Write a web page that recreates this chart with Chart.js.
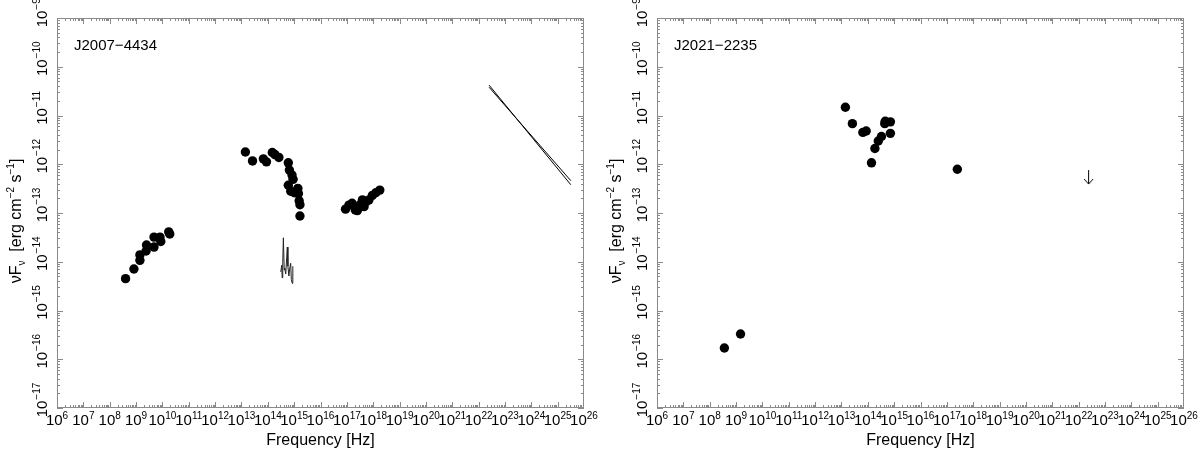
<!DOCTYPE html>
<html>
<head>
<meta charset="utf-8">
<script src="https://cdn.jsdelivr.net/npm/chart.js@4"></script>
<style>
  body { margin: 0; background: #fff; }
  .panel { position: absolute; top: 0; width: 600px; height: 451px; }
</style>
</head>
<body>
<div class="panel" style="left:0"><canvas id="left" width="600" height="451"></canvas></div>
<div class="panel" style="left:600px"><canvas id="right" width="600" height="451"></canvas></div>
<script>
// ---------- data (Hz, erg cm^-2 s^-1) ----------
// J2007-4434
const radioNuA   = [4.0e8, 8.3e8, 1.4e9, 1.4e9, 2.4e9, 2.5e9, 4.8e9, 4.8e9, 8.1e9, 8.7e9, 1.74e10, 1.9e10];
const radioFluxA = [4.5e-15, 7.1e-15, 1.07e-14, 1.38e-14, 1.66e-14, 2.2e-14, 2.0e-14, 3.2e-14, 3.2e-14, 2.6e-14, 4.1e-14, 3.7e-14];

const optNuA   = [1.41e13, 2.63e13, 6.8e13, 8.9e13, 1.48e14, 1.86e14, 2.63e14, 6.0e14, 6.6e14, 8.3e14,
                  9.1e14, 6.0e14, 7.4e14, 1.02e15, 1.38e15, 1.45e15, 1.55e15, 1.66e15, 1.66e15];
const optFluxA = [1.78e-12, 1.17e-12, 1.29e-12, 1.12e-12, 1.74e-12, 1.58e-12, 1.38e-12, 1.07e-12, 7.6e-13, 6.0e-13,
                  4.9e-13, 3.7e-13, 2.8e-13, 2.6e-13, 3.2e-13, 2.5e-13, 1.78e-13, 1.48e-13, 8.7e-14];

const xrayNuA   = [8.9e16, 1.2e17, 1.58e17, 2.1e17, 2.5e17, 2.9e17, 3.3e17, 3.9e17, 4.5e17, 5.5e17, 6.9e17, 9.3e17, 1.26e18, 1.78e18];
const xrayFluxA = [1.2e-13, 1.45e-13, 1.58e-13, 1.15e-13, 1.12e-13, 1.32e-13, 1.51e-13, 1.86e-13, 1.35e-13, 1.7e-13, 1.86e-13, 2.3e-13, 2.6e-13, 2.95e-13];

const specNuA   = [3.1e14, 3.4e14, 3.5e14, 3.7e14, 3.9e14, 4.2e14, 4.4e14, 4.8e14, 5.2e14, 5.5e14,
                   5.8e14, 6.3e14, 6.8e14, 7.4e14, 7.8e14, 8.5e14, 8.9e14];
const specFluxA = [6.2e-15, 8.5e-15, 4.7e-15, 9.8e-15, 3.1e-14, 6.8e-15, 7.4e-15, 5.6e-15, 1.2e-14, 2.0e-14,
                   8.1e-15, 5.1e-15, 7.4e-15, 9.3e-15, 4.3e-15, 3.6e-15, 8.1e-15];

// gamma-ray bowtie edges
const gammaNuA    = [2.5e22, 3.16e25];
const gammaUpperA = [4.2e-11, 3.8e-13];
const gammaLowerA = [3.8e-11, 4.6e-13];

// J2021-2235
const radioNuB   = [3.6e8, 1.48e9];
const radioFluxB = [1.7e-16, 3.3e-16];

const optNuB   = [1.41e13, 2.6e13, 6.5e13, 8.7e13, 1.38e14, 1.86e14, 2.5e14, 3.3e14, 4.4e14, 4.6e14, 7.2e14, 7.2e14];
const optFluxB = [1.48e-11, 6.8e-12, 4.5e-12, 4.8e-12, 1.07e-12, 2.1e-12, 3.0e-12, 3.7e-12, 6.8e-12, 7.6e-12, 7.4e-12, 4.3e-12];

const xrayNuB   = [2.5e17];
const xrayFluxB = [7.9e-13];

const limitNuB   = [2.4e22];
const limitFluxB = [7.6e-13];

// axis tick labels (exponents of ten)
const xExps = [6, 7, 8, 9, 10, 11, 12, 13, 14, 15, 16, 17, 18, 19, 20, 21, 22, 23, 24, 25, 26];
const yExps = [-17, -16, -15, -14, -13, -12, -11, -10, -9];

// ---------- helpers ----------
const pts = (xs, ys) => xs.map((x, i) => ({ x: x, y: ys[i] }));
const FONT = '"Liberation Sans", Arial, Helvetica, sans-serif';
const AXIS = '#8a8a8a';
const expText = e => String(e).replace('-', '−');

function dots(data) {
  return { data: data, pointRadius: 4.7, pointHoverRadius: 4.7, backgroundColor: '#000', borderColor: '#000', borderWidth: 0, showLine: false };
}
function thinLine(data, color) {
  return { data: data, showLine: true, pointRadius: 0, borderWidth: 1, borderColor: color, tension: 0 };
}

// down arrow for the upper limit: the data point is the top of the arrow
function arrowImage() {
  const c = document.createElement('canvas');
  c.width = 13; c.height = 30;
  const g = c.getContext('2d');
  g.strokeStyle = '#000'; g.lineWidth = 1;
  g.beginPath();
  g.moveTo(6.5, 15); g.lineTo(6.5, 29);
  g.moveTo(2, 24); g.lineTo(6.5, 29); g.lineTo(11, 24);
  g.stroke();
  return c;
}

// frame, inward ticks, labels
const sedAxes = {
  id: 'sedAxes',
  afterDraw(chart, args, opts) {
    const { ctx, chartArea: a, scales } = chart;
    const sx = scales.x, sy = scales.y;
    ctx.save();
    ctx.strokeStyle = AXIS;
    ctx.lineWidth = 1;
    ctx.strokeRect(Math.round(a.left) + 0.5, Math.round(a.top) + 0.5, Math.round(a.width) - 1, Math.round(a.height) - 1);

    ctx.beginPath();
    for (let e = xExps[0]; e < xExps[xExps.length - 1]; e++) {
      for (let m = 1; m < 10; m++) {
        const px = Math.round(sx.getPixelForValue(m * Math.pow(10, e))) + 0.5;
        const len = m === 1 ? 6 : 3;
        ctx.moveTo(px, a.bottom); ctx.lineTo(px, a.bottom - len);
        ctx.moveTo(px, a.top); ctx.lineTo(px, a.top + len);
      }
    }
    for (let e = yExps[0]; e < yExps[yExps.length - 1]; e++) {
      for (let m = 1; m < 10; m++) {
        const py = Math.round(sy.getPixelForValue(m * Math.pow(10, e))) + 0.5;
        const len = m === 1 ? 6 : 3;
        ctx.moveTo(a.left, py); ctx.lineTo(a.left + len, py);
        ctx.moveTo(a.right, py); ctx.lineTo(a.right - len, py);
      }
    }
    ctx.stroke();

    ctx.fillStyle = '#000';
    ctx.textBaseline = 'alphabetic';
    // x tick labels
    xExps.forEach(e => {
      const px = sx.getPixelForValue(Math.pow(10, e));
      const sup = expText(e);
      ctx.font = '15px ' + FONT;
      const w10 = ctx.measureText('10').width;
      ctx.font = '10px ' + FONT;
      const ws = ctx.measureText(sup).width;
      const x0 = px - (w10 + ws) / 2;
      ctx.font = '15px ' + FONT;
      ctx.fillText('10', x0, a.bottom + 17);
      ctx.font = '10px ' + FONT;
      ctx.fillText(sup, x0 + w10, a.bottom + 11);
    });
    // y tick labels (rotated)
    yExps.forEach(e => {
      const py = sy.getPixelForValue(Math.pow(10, e));
      const sup = expText(e);
      ctx.save();
      ctx.translate(a.left - 10, py);
      ctx.rotate(-Math.PI / 2);
      ctx.font = '15px ' + FONT;
      const w10 = ctx.measureText('10').width;
      ctx.fillText('10', -w10 / 2 - 1, 0);
      ctx.font = '10px ' + FONT;
      ctx.fillText(sup, w10 / 2, -7);
      ctx.restore();
    });

    // axis titles
    ctx.font = '16px ' + FONT;
    ctx.textAlign = 'center';
    ctx.fillText('Frequency [Hz]', (a.left + a.right) / 2, a.bottom + 37);
    ctx.save();
    ctx.translate(21, (a.top + a.bottom) / 2 + 8);
    ctx.rotate(-Math.PI / 2);
    ctx.textAlign = 'left';
    const parts = [['νF', 16, 0], ['ν', 10, 4], ['  [erg cm', 16, 0], ['−2', 10, -7], [' s', 16, 0], ['−1', 10, -7], [']', 16, 0]];
    let total = 0;
    parts.forEach(p => { ctx.font = p[1] + 'px ' + FONT; total += ctx.measureText(p[0]).width; });
    let cx = -total / 2;
    parts.forEach(p => {
      ctx.font = p[1] + 'px ' + FONT;
      ctx.fillText(p[0], cx, p[2]);
      cx += ctx.measureText(p[0]).width;
    });
    ctx.restore();

    // source name
    ctx.font = '15px ' + FONT;
    ctx.textAlign = 'left';
    ctx.fillText(opts.name, a.left + 17, a.top + 32);
    ctx.restore();
  }
};

function makeChart(id, name, datasets) {
  return new Chart(document.getElementById(id), {
    type: 'scatter',
    data: { datasets: datasets },
    options: {
      responsive: false,
      animation: false,
      devicePixelRatio: 1,
      layout: { padding: { left: 57, right: 16, top: 18, bottom: 43 } },
      scales: {
        x: { type: 'logarithmic', min: 1e6, max: 1e26, display: false },
        y: { type: 'logarithmic', min: 1e-17, max: 1e-9, display: false }
      },
      plugins: {
        legend: { display: false },
        tooltip: { enabled: false },
        sedAxes: { name: name }
      }
    },
    plugins: [sedAxes]
  });
}

makeChart('left', 'J2007−4434', [
  dots(pts(radioNuA, radioFluxA)),
  dots(pts(optNuA, optFluxA)),
  dots(pts(xrayNuA, xrayFluxA)),
  thinLine(pts(specNuA, specFluxA), '#222'),
  thinLine(pts(gammaNuA, gammaUpperA), '#000'),
  thinLine(pts(gammaNuA, gammaLowerA), '#000')
]);

makeChart('right', 'J2021−2235', [
  dots(pts(radioNuB, radioFluxB)),
  dots(pts(optNuB, optFluxB)),
  dots(pts(xrayNuB, xrayFluxB)),
  { data: pts(limitNuB, limitFluxB), showLine: false, pointStyle: arrowImage(), pointRadius: 15 }
]);
</script>
</body>
</html>
